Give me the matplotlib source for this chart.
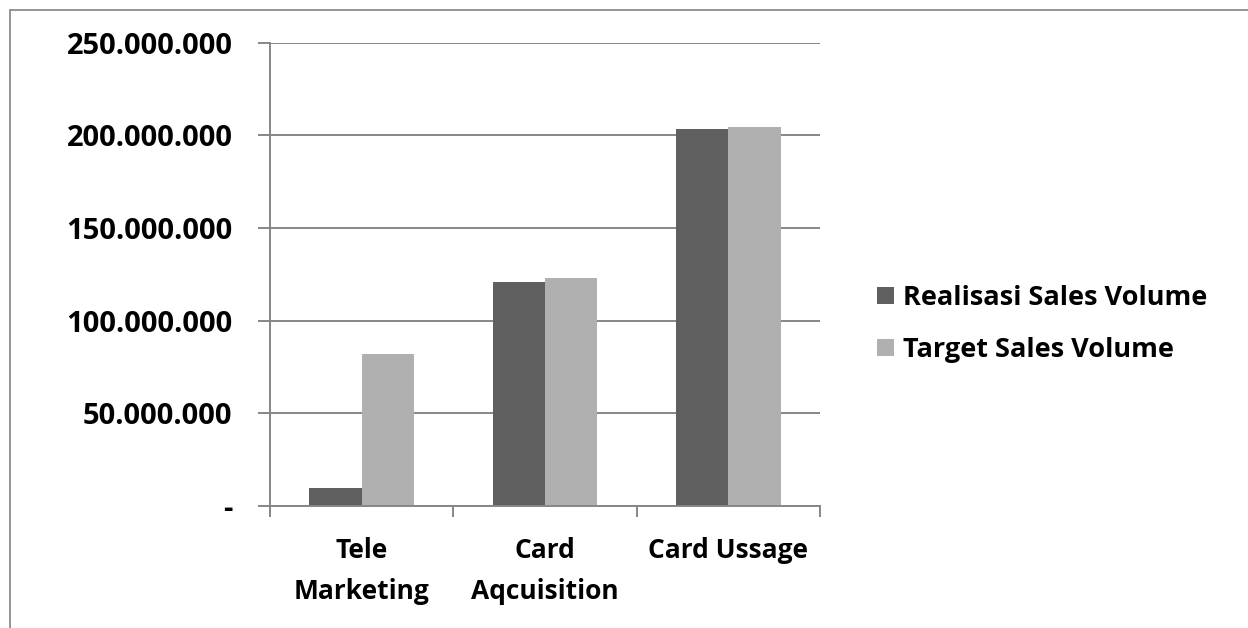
import matplotlib
matplotlib.use("Agg")
import matplotlib.pyplot as plt
import numpy as np
from matplotlib.patches import Rectangle
from matplotlib.ticker import FuncFormatter, FixedLocator

plt.rcParams['font.family'] = ['Open Sans', 'DejaVu Sans']

kategori = ['Tele\nMarketing', 'Card\nAqcuisition', 'Card Ussage']
realisasi = [9.7e6, 121e6, 203.7e6]
target = [82e6, 123e6, 204.5e6]
seri = ['Realisasi Sales Volume', 'Target Sales Volume']
warna = ['#5f5f5f', '#b0b0b0']
y_ticks = [0, 50e6, 100e6, 150e6, 200e6, 250e6]

W, H = 1248, 628
fig = plt.figure(figsize=(W / 100, H / 100), dpi=100)

# ramka wykresu (jak w Excelu)
fig.patches.append(Rectangle((10 / W, -0.1), 2, 1.1 - 10 / H, transform=fig.transFigure,
                             fill=False, edgecolor='#8c8c8c', linewidth=1.3))

ax = fig.add_axes([270 / W, (H - 506) / H, (820 - 270) / W, (506 - 42.7) / H])

x = np.arange(len(kategori))
szer = 1 / 3.5
ax.bar(x - szer / 2, realisasi, szer, color=warna[0], label=seri[0], zorder=3)
ax.bar(x + szer / 2, target, szer, color=warna[1], label=seri[1], zorder=3)

ax.set_xlim(-0.5, len(kategori) - 0.5)
ax.set_ylim(0, 250e6)

ax.yaxis.set_major_locator(FixedLocator(y_ticks))
ax.yaxis.set_major_formatter(FuncFormatter(
    lambda v, p: '-' if v == 0 else f'{int(v):,}'.replace(',', '.')))
ax.grid(axis='y', color='#868686', linewidth=1.4, zorder=0)
ax.tick_params(axis='y', length=9, width=1.4, color='#868686', pad=18, labelsize=21)

ax.set_xticks(x)
ax.set_xticklabels(kategori, fontsize=19, fontweight='bold', linespacing=1.7)
ax.set_xticks(np.arange(len(kategori) + 1) - 0.5, minor=True)
ax.tick_params(axis='x', which='major', length=0, pad=22)
ax.tick_params(axis='x', which='minor', length=8, width=1.4, color='#868686')
for lbl in ax.get_yticklabels():
    lbl.set_fontweight('bold')

for s in ['top', 'right']:
    ax.spines[s].set_visible(False)
for s in ['left', 'bottom']:
    ax.spines[s].set_color('#868686')
    ax.spines[s].set_linewidth(1.4)
ax.spines['bottom'].set_zorder(4)

leg = fig.legend(loc='center left', bbox_to_anchor=(853 / W, (H - 324) / H),
                 frameon=False, handlelength=0.6, handleheight=0.6,
                 handletextpad=0.35, labelspacing=0.95, prop={'weight': 'bold', 'size': 19.5})

fig.savefig('out.png', dpi=100, facecolor='white')
